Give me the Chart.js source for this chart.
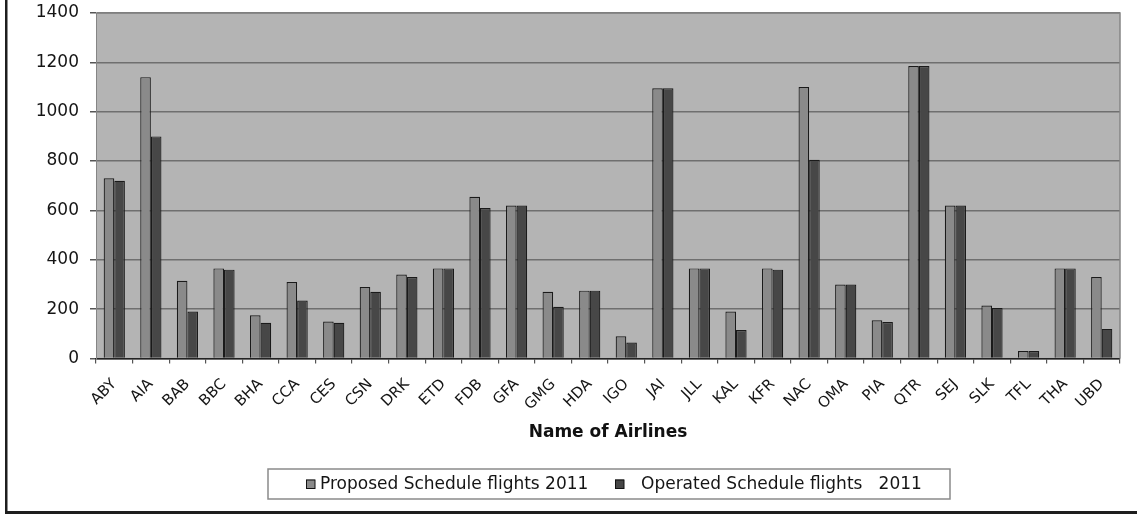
<!DOCTYPE html>
<html>
<head>
<meta charset="utf-8">
<script src="https://cdn.jsdelivr.net/npm/chart.js@4.4.1/dist/chart.umd.min.js"></script>
<style>
html,body{margin:0;padding:0;background:#fff;}
#wrap{position:relative;width:1137px;height:514px;}
canvas{display:block;}
</style>
</head>
<body>
<div id="wrap"><canvas id="c" width="1137" height="514"></canvas></div>
<script>
const airlines = ["ABY","AIA","BAB","BBC","BHA","CCA","CES","CSN","DRK","ETD","FDB","GFA","GMG","HDA","IGO","JAI","JLL","KAL","KFR","NAC","OMA","PIA","QTR","SEJ","SLK","TFL","THA","UBD"];
const proposed2011 = [730,1140,315,365,175,310,150,290,340,365,655,620,270,275,90,1095,365,190,365,1100,300,155,1185,620,215,30,365,330];
const operated2011 = [720,900,190,360,145,235,145,270,330,365,610,620,210,275,65,1095,365,115,360,805,300,148,1185,620,205,30,365,120];
const seriesNames = ["Proposed Schedule flights 2011","Operated Schedule flights   2011"];
const yTicks = [0,200,400,600,800,1000,1200,1400];
const xTitle = "Name of Airlines";

const FONT = '"DejaVu Sans", "Liberation Sans", Arial, sans-serif';

const framePlugin = {
  id: 'frame',
  beforeDraw(chart) {
    const ctx = chart.ctx;
    ctx.save();
    ctx.fillStyle = '#ffffff';
    ctx.fillRect(0, 0, chart.width, chart.height);
    const a = chart.chartArea;
    ctx.fillStyle = '#b4b4b4';
    ctx.fillRect(a.left, a.top, a.right - a.left, a.bottom - a.top);
    ctx.restore();
  },
  afterDraw(chart) {
    const ctx = chart.ctx;
    const a = chart.chartArea;
    ctx.save();
    ctx.strokeStyle = '#858585';
    ctx.lineWidth = 1.5;
    ctx.beginPath();
    ctx.moveTo(a.left, a.top);
    ctx.lineTo(a.right, a.top);
    ctx.lineTo(a.right, a.bottom);
    ctx.stroke();
    ctx.fillStyle = '#1e1e1e';
    ctx.fillRect(5, 0, 2.5, chart.height);
    ctx.fillRect(5, 511, chart.width - 5, 3);
    const bx = 268, by = 469, bw = 682, bh = 30;
    ctx.fillStyle = '#ffffff';
    ctx.fillRect(bx, by, bw, bh);
    ctx.strokeStyle = '#8a8a8a';
    ctx.lineWidth = 1.5;
    ctx.strokeRect(bx, by, bw, bh);
    ctx.font = '17px ' + FONT;
    ctx.textBaseline = 'middle';
    ctx.textAlign = 'left';
    const cy = by + bh / 2;
    const items = [{sq: 306, tx: 320}, {sq: 615, tx: 641}];
    chart.data.datasets.forEach((ds, i) => {
      const it = items[i];
      ctx.fillStyle = ds.backgroundColor;
      ctx.fillRect(it.sq, cy - 4.5, 9, 9);
      ctx.strokeStyle = '#111';
      ctx.lineWidth = 1;
      ctx.strokeRect(it.sq + 0.5, cy - 4, 8.5, 8.5);
      ctx.fillStyle = '#151515';
      ctx.fillText(ds.label, it.tx, cy + 1);
    });
    ctx.restore();
  }
};

new Chart(document.getElementById('c'), {
  type: 'bar',
  data: {
    labels: airlines,
    datasets: [
      {label: seriesNames[0], data: proposed2011, backgroundColor: '#8a8a8a', borderColor: '#1a1a1a', borderWidth: 1.2},
      {label: seriesNames[1], data: operated2011, backgroundColor: '#474747', borderColor: '#1a1a1a', borderWidth: 1.2}
    ]
  },
  options: {
    responsive: false,
    animation: false,
    devicePixelRatio: 1,
    layout: {padding: {left: 0, right: 17, top: 13, bottom: 67}},
    plugins: {legend: {display: false}, tooltip: {enabled: false}},
    datasets: {bar: {categoryPercentage: 0.58, barPercentage: 1.0}},
    scales: {
      x: {
        offset: true,
        grid: {display: true, drawOnChartArea: false, offset: true, tickLength: 5, color: '#555', lineWidth: 1.2},
        border: {display: true, color: '#222', width: 1.5},
        ticks: {maxRotation: 45, minRotation: 45, autoSkip: false, padding: 12, color: '#151515', font: {family: FONT, size: 15}},
        title: {display: true, text: xTitle, color: '#111', font: {family: FONT, size: 17, weight: 'bold'}, padding: {top: 4, bottom: 4}},
        afterFit(s) { s.height = 88.5; s.paddingLeft = 0; s.paddingRight = 0; }
      },
      y: {
        min: 0, max: 1400,
        afterBuildTicks(s) { s.ticks = yTicks.map(v => ({value: v})); },
        grid: {color: '#6f6f6f', lineWidth: 1.5, tickLength: 6, tickColor: '#555'},
        border: {display: true, color: '#858585', width: 1},
        ticks: {padding: 11, color: '#151515', font: {family: FONT, size: 17}, callback: v => String(v)},
        afterFit(s) { s.width = 96; s.paddingTop = 0; s.paddingBottom = 0; }
      }
    }
  },
  plugins: [framePlugin]
});
</script>
</body>
</html>
